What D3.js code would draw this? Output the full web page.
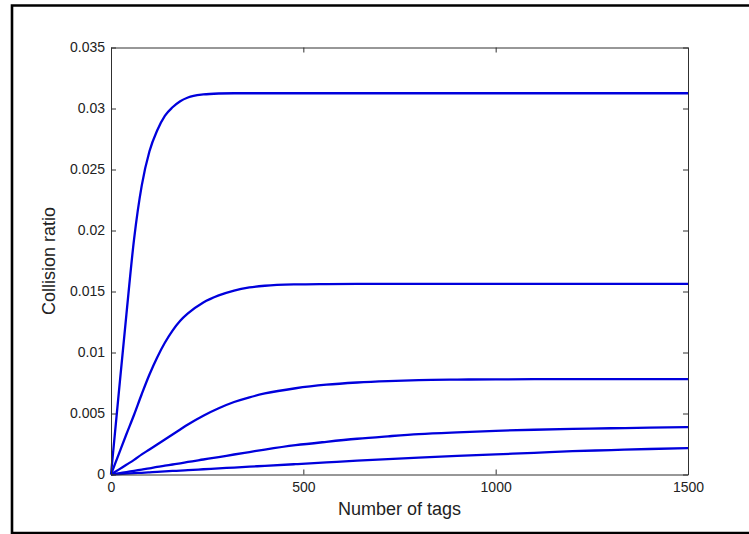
<!DOCTYPE html>
<html>
<head>
<meta charset="utf-8">
<script src="https://cdn.jsdelivr.net/npm/d3@7"></script>
<style>
  body { margin: 0; background: #fff; }
  svg { display: block; }
  text { font-family: "Liberation Sans", Arial, Helvetica, sans-serif; fill: #222; }
</style>
</head>
<body>
<svg id="chart" width="749" height="534"></svg>
<script>
// Number of tags (x samples shared by every series)
const tagCounts = [0, 20, 40, 60, 80, 100, 120, 140, 160, 180, 200, 240, 280, 320, 360, 400,
                   480, 560, 640, 720, 800, 900, 1000, 1100, 1200, 1300, 1400, 1500];

// Collision ratio, one array per frame size
const ratioFrame32 = [0, 0.0066, 0.0131, 0.0193, 0.0237, 0.0265, 0.0282, 0.0294, 0.0301, 0.0306,
                      0.0309, 0.03115, 0.03123, 0.03125, 0.03125, 0.03125, 0.03125, 0.03125, 0.03125,
                      0.03125, 0.03125, 0.03125, 0.03125, 0.03125, 0.03125, 0.03125, 0.03125, 0.03125];
const ratioFrame64 = [0, 0.00165, 0.0033, 0.0049, 0.0066, 0.0082, 0.0096, 0.0108, 0.0118, 0.0126,
                      0.0132, 0.0141, 0.01468, 0.01508, 0.01533, 0.01547, 0.01558, 0.01561, 0.015625,
                      0.015625, 0.015625, 0.015625, 0.015625, 0.015625, 0.015625, 0.015625, 0.015625, 0.015625];
const ratioFrame128 = [0, 0.0004, 0.0008, 0.0012, 0.00165, 0.00205, 0.00246, 0.00287, 0.00328, 0.00369,
                       0.0041, 0.00482, 0.00543, 0.00594, 0.00633, 0.00664, 0.00707, 0.00736, 0.00754,
                       0.00766, 0.00774, 0.00778, 0.0078, 0.00781, 0.00781, 0.00781, 0.00781, 0.00781];
const ratioFrame256 = [0, 0.0001, 0.0002, 0.0003, 0.0004, 0.0005, 0.00062, 0.00072, 0.00082, 0.00092,
                       0.00103, 0.00123, 0.00143, 0.00164, 0.00184, 0.00204, 0.0024, 0.00268, 0.00293,
                       0.00313, 0.00331, 0.00346, 0.00358, 0.00367, 0.00374, 0.00379, 0.00384, 0.00388];
const ratioFrame512 = [0, 0.00004, 0.00007, 0.00011, 0.00014, 0.00018, 0.00022, 0.00025, 0.00029, 0.00032,
                       0.00036, 0.00043, 0.0005, 0.00057, 0.00064, 0.00071, 0.00085, 0.00099, 0.00113,
                       0.00126, 0.00138, 0.00152, 0.00165, 0.00177, 0.00191, 0.002, 0.00209, 0.00216];

const seriesList = [ratioFrame32, ratioFrame64, ratioFrame128, ratioFrame256, ratioFrame512];

const xTicks = [0, 500, 1000, 1500];
const yTicks = [0, 0.005, 0.01, 0.015, 0.02, 0.025, 0.03, 0.035];
const yTickLabels = ["0", "0.005", "0.01", "0.015", "0.02", "0.025", "0.03", "0.035"];

const xLabel = "Number of tags";
const yLabel = "Collision ratio";

const svg = d3.select("#chart");
const W = 749, H = 534;
const plot = { left: 111, top: 47.5, width: 577, height: 427 };

svg.append("rect").attr("width", W).attr("height", H).attr("fill", "#fff");

// Figure border (open on the right edge)
svg.append("path")
  .attr("d", `M${W + 5},5.5 H12 V533 H${W + 5}`)
  .attr("fill", "none")
  .attr("stroke", "#000")
  .attr("stroke-width", 2.6);

const x = d3.scaleLinear().domain([0, 1500]).range([0, plot.width]);
const y = d3.scaleLinear().domain([0, 0.035]).range([plot.height, 0]);

const g = svg.append("g").attr("transform", `translate(${plot.left},${plot.top})`);

// Data lines
const line = d3.line()
  .x((d, i) => x(tagCounts[i]))
  .y(d => y(d))
  .curve(d3.curveMonotoneX);

g.selectAll("path.series")
  .data(seriesList)
  .join("path")
  .attr("class", "series")
  .attr("d", line)
  .attr("fill", "none")
  .attr("stroke", "#0000dc")
  .attr("stroke-width", 2.3)
  .attr("stroke-linejoin", "round");

// Axes with inward ticks, box on all four sides
const tickLen = 5;
const styleAxis = sel => {
  sel.select(".domain").attr("stroke", "#303030").attr("stroke-width", 1);
  sel.selectAll(".tick line").attr("stroke", "#303030");
  sel.selectAll(".tick text").attr("font-size", 14).attr("fill", "#222")
    .attr("font-family", '"Liberation Sans", Arial, Helvetica, sans-serif');
};

g.append("g")
  .attr("transform", `translate(0,${plot.height})`)
  .call(d3.axisBottom(x).tickValues(xTicks).tickFormat(d3.format("d"))
    .tickSizeInner(-tickLen).tickSizeOuter(0).tickPadding(8))
  .call(styleAxis);

g.append("g")
  .call(d3.axisLeft(y).tickValues(yTicks).tickFormat((d, i) => yTickLabels[i])
    .tickSizeInner(-tickLen).tickSizeOuter(0).tickPadding(6))
  .call(styleAxis);

g.append("g")
  .call(d3.axisTop(x).tickValues(xTicks).tickFormat("")
    .tickSizeInner(-tickLen).tickSizeOuter(0))
  .call(styleAxis);

g.append("g")
  .attr("transform", `translate(${plot.width},0)`)
  .call(d3.axisRight(y).tickValues(yTicks).tickFormat("")
    .tickSizeInner(-tickLen).tickSizeOuter(0))
  .call(styleAxis);

// Axis titles
svg.append("text")
  .attr("x", plot.left + plot.width / 2)
  .attr("y", 515)
  .attr("text-anchor", "middle")
  .attr("font-size", 18)
  .text(xLabel);

svg.append("text")
  .attr("transform", `translate(55,${plot.top + plot.height / 2}) rotate(-90)`)
  .attr("text-anchor", "middle")
  .attr("font-size", 18)
  .text(yLabel);
</script>
</body>
</html>
